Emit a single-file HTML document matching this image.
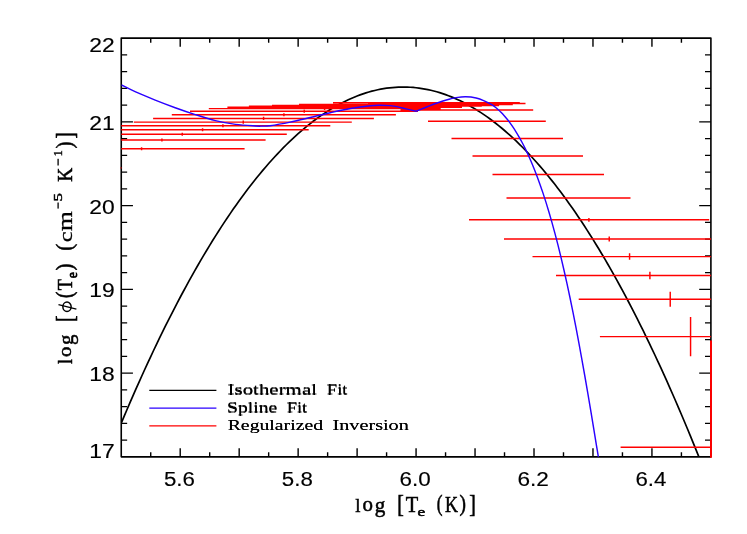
<!DOCTYPE html>
<html><head><meta charset="utf-8"><title>DEM plot</title>
<style>html,body{margin:0;padding:0;background:#fff;}body{width:747px;height:534px;overflow:hidden;}svg{display:block;will-change:transform;}text{font-family:"Liberation Serif",serif;fill:#000;}.tk{font-family:"Liberation Sans",sans-serif;font-size:20px;}</style></head><body>
<svg width="747" height="534" viewBox="0 0 747 534">
<rect x="0" y="0" width="747" height="534" fill="#fff"/>
<defs><clipPath id="cp"><rect x="121.25" y="38.10" width="589.65" height="418.75"/></clipPath></defs>
<path d="M121.25 38.10H710.90V456.85H121.25Z" fill="none" stroke="#000" stroke-width="1.6" stroke-linejoin="round"/>
<path d="M150.73 456.85v-4.60M150.73 38.10v4.60M180.21 456.85v-8.60M180.21 38.10v8.60M209.70 456.85v-4.60M209.70 38.10v4.60M239.18 456.85v-8.60M239.18 38.10v8.60M268.66 456.85v-4.60M268.66 38.10v4.60M298.14 456.85v-8.60M298.14 38.10v8.60M327.63 456.85v-4.60M327.63 38.10v4.60M357.11 456.85v-8.60M357.11 38.10v8.60M386.59 456.85v-4.60M386.59 38.10v4.60M416.07 456.85v-8.60M416.07 38.10v8.60M445.56 456.85v-4.60M445.56 38.10v4.60M475.04 456.85v-8.60M475.04 38.10v8.60M504.52 456.85v-4.60M504.52 38.10v4.60M534.01 456.85v-8.60M534.01 38.10v8.60M563.49 456.85v-4.60M563.49 38.10v4.60M592.97 456.85v-8.60M592.97 38.10v8.60M622.45 456.85v-4.60M622.45 38.10v4.60M651.94 456.85v-8.60M651.94 38.10v8.60M681.42 456.85v-4.60M681.42 38.10v4.60M121.25 440.10h5.90M710.90 440.10h-5.90M121.25 423.35h5.90M710.90 423.35h-5.90M121.25 406.60h5.90M710.90 406.60h-5.90M121.25 389.85h5.90M710.90 389.85h-5.90M121.25 373.10h11.70M710.90 373.10h-11.70M121.25 356.35h5.90M710.90 356.35h-5.90M121.25 339.60h5.90M710.90 339.60h-5.90M121.25 322.85h5.90M710.90 322.85h-5.90M121.25 306.10h5.90M710.90 306.10h-5.90M121.25 289.35h11.70M710.90 289.35h-11.70M121.25 272.60h5.90M710.90 272.60h-5.90M121.25 255.85h5.90M710.90 255.85h-5.90M121.25 239.10h5.90M710.90 239.10h-5.90M121.25 222.35h5.90M710.90 222.35h-5.90M121.25 205.60h11.70M710.90 205.60h-11.70M121.25 188.85h5.90M710.90 188.85h-5.90M121.25 172.10h5.90M710.90 172.10h-5.90M121.25 155.35h5.90M710.90 155.35h-5.90M121.25 138.60h5.90M710.90 138.60h-5.90M121.25 121.85h11.70M710.90 121.85h-11.70M121.25 105.10h5.90M710.90 105.10h-5.90M121.25 88.35h5.90M710.90 88.35h-5.90M121.25 71.60h5.90M710.90 71.60h-5.90M121.25 54.85h5.90M710.90 54.85h-5.90" fill="none" stroke="#000" stroke-width="1.4" stroke-linecap="butt"/>
<g clip-path="url(#cp)">
<polyline points="121.25,423.15 124.20,416.15 127.15,409.23 130.09,402.39 133.04,395.61 135.99,388.92 138.94,382.29 141.89,375.74 144.84,369.26 147.78,362.85 150.73,356.52 153.68,350.26 156.63,344.08 159.58,337.97 162.53,331.93 165.47,325.97 168.42,320.08 171.37,314.26 174.32,308.52 177.27,302.85 180.21,297.25 183.16,291.73 186.11,286.28 189.06,280.90 192.01,275.60 194.96,270.37 197.90,265.22 200.85,260.14 203.80,255.13 206.75,250.19 209.70,245.33 212.65,240.54 215.59,235.83 218.54,231.19 221.49,226.62 224.44,222.13 227.39,217.71 230.34,213.36 233.28,209.09 236.23,204.89 239.18,200.76 242.13,196.71 245.08,192.73 248.02,188.83 250.97,185.00 253.92,181.24 256.87,177.55 259.82,173.94 262.77,170.40 265.71,166.94 268.66,163.55 271.61,160.23 274.56,156.99 277.51,153.82 280.46,150.72 283.40,147.70 286.35,144.75 289.30,141.87 292.25,139.07 295.20,136.34 298.14,133.68 301.09,131.10 304.04,128.59 306.99,126.16 309.94,123.80 312.89,121.51 315.83,119.29 318.78,117.15 321.73,115.09 324.68,113.09 327.63,111.17 330.58,109.33 333.52,107.55 336.47,105.85 339.42,104.23 342.37,102.67 345.32,101.19 348.27,99.79 351.21,98.46 354.16,97.20 357.11,96.01 360.06,94.90 363.01,93.86 365.95,92.90 368.90,92.01 371.85,91.19 374.80,90.45 377.75,89.77 380.70,89.18 383.64,88.65 386.59,88.20 389.54,87.83 392.49,87.53 395.44,87.30 398.39,87.14 401.33,87.06 404.28,87.05 407.23,87.11 410.18,87.25 413.13,87.46 416.07,87.75 419.02,88.11 421.97,88.54 424.92,89.05 427.87,89.62 430.82,90.28 433.76,91.00 436.71,91.80 439.66,92.68 442.61,93.62 445.56,94.64 448.51,95.74 451.45,96.91 454.40,98.15 457.35,99.46 460.30,100.85 463.25,102.31 466.20,103.85 469.14,105.46 472.09,107.14 475.04,108.89 477.99,110.72 480.94,112.62 483.88,114.60 486.83,116.65 489.78,118.77 492.73,120.97 495.68,123.24 498.63,125.59 501.57,128.00 504.52,130.49 507.47,133.06 510.42,135.70 513.37,138.41 516.32,141.19 519.26,144.05 522.21,146.98 525.16,149.99 528.11,153.07 531.06,156.22 534.01,159.45 536.95,162.74 539.90,166.12 542.85,169.56 545.80,173.08 548.75,176.68 551.69,180.35 554.64,184.09 557.59,187.90 560.54,191.79 563.49,195.75 566.44,199.78 569.38,203.89 572.33,208.07 575.28,212.33 578.23,216.66 581.18,221.06 584.13,225.54 587.07,230.09 590.02,234.71 592.97,239.41 595.92,244.18 598.87,249.02 601.81,253.94 604.76,258.93 607.71,263.99 610.66,269.13 613.61,274.34 616.56,279.62 619.50,284.98 622.45,290.41 625.40,295.92 628.35,301.50 631.30,307.15 634.25,312.88 637.19,318.67 640.14,324.55 643.09,330.49 646.04,336.51 648.99,342.61 651.94,348.77 654.88,355.01 657.83,361.33 660.78,367.72 663.73,374.18 666.68,380.71 669.62,387.32 672.57,394.00 675.52,400.76 678.47,407.58 681.42,414.49 684.37,421.46 687.31,428.51 690.26,435.63 693.21,442.83 696.16,450.10 699.11,457.44 702.06,464.86 705.00,472.35 707.95,479.91 710.90,487.55" fill="none" stroke="#000" stroke-width="1.70" stroke-linejoin="round"/>
<path d="M116.25 148.70H244.60M141.58 147.15V150.25M116.25 140.00H265.60M161.92 138.45V141.55M116.25 134.20H286.80M182.25 132.65V135.75M116.25 129.70H308.70M202.58 128.15V131.25M116.25 125.80H330.30M222.91 124.25V127.35M133.80 122.10H351.80M243.25 120.55V123.65M153.10 118.40H373.90M263.58 116.85V119.95M171.80 114.70H395.90M283.91 113.15V116.25M190.00 111.20H418.00M304.24 109.75V112.65M208.80 108.60H440.70M324.58 107.25V109.95M227.40 107.20H462.00M248.90 106.10H481.80M272.00 105.50H499.10M299.00 104.50H512.80M333.00 102.80H519.80M368.00 103.55H525.50M400.50 109.90H533.20M428.00 121.20H545.80M451.50 138.50H563.00M472.50 156.00H583.00M492.50 174.50H604.00M506.50 198.00H630.50M469.00 219.80H709.20M588.90 217.95V221.65M504.00 239.00H715.90M609.24 236.55V241.45M532.50 256.60H715.90M629.57 253.35V259.85M556.00 275.50H715.90M649.90 271.65V279.35M578.70 299.30H715.90M670.23 291.85V306.75M599.90 336.60H715.90M690.57 317.00V356.20M620.60 447.20H715.90" fill="none" stroke="#f00" stroke-width="1.45"/>
</g>
<path d="M711.00 340.5V457.75" stroke="#f00" stroke-width="1.95" fill="none"/>
<rect x="120.55" y="167.3" width="1.0" height="1.2" fill="#f00"/>
<g clip-path="url(#cp)">
<path d="M121.50 85.00C123.77 86.12 129.48 89.18 135.10 91.70C140.72 94.22 148.52 97.43 155.20 100.10C161.88 102.77 168.52 105.28 175.20 107.70C181.88 110.12 188.60 112.45 195.30 114.60C202.00 116.75 208.70 118.97 215.40 120.60C222.10 122.23 228.80 123.50 235.50 124.40C242.20 125.30 251.18 125.72 255.60 126.00C260.02 126.28 259.58 126.15 262.00 126.10C264.42 126.05 265.40 126.37 270.10 125.70C274.80 125.03 283.52 123.47 290.20 122.10C296.88 120.73 303.52 119.07 310.20 117.50C316.88 115.93 323.60 114.20 330.30 112.70C337.00 111.20 343.70 109.67 350.40 108.50C357.10 107.33 365.48 106.23 370.50 105.70C375.52 105.17 377.25 105.31 380.50 105.30C383.75 105.29 387.08 105.39 390.00 105.65C392.92 105.91 395.32 106.31 398.00 106.85C400.68 107.39 403.08 108.18 406.10 108.90C409.12 109.62 414.43 110.82 416.10 111.20L416.10 111.20C417.77 110.54 423.08 108.45 426.10 107.25C429.12 106.05 431.52 104.99 434.20 104.00C436.88 103.01 439.57 102.13 442.20 101.30C444.83 100.47 447.68 99.62 450.00 99.00C452.32 98.38 453.48 97.97 456.10 97.60C458.72 97.23 462.37 96.73 465.70 96.80C469.03 96.87 473.02 97.33 476.10 98.00C479.18 98.67 481.52 99.65 484.20 100.80C486.88 101.95 490.40 103.87 492.20 104.90C494.00 105.93 494.03 106.24 495.00 107.01C495.97 107.77 497.00 108.60 498.00 109.48C499.00 110.36 500.00 111.30 501.00 112.30C502.00 113.29 503.00 114.34 504.00 115.46C505.00 116.57 506.00 117.74 507.00 118.98C508.00 120.21 509.00 121.51 510.00 122.87C511.00 124.22 512.00 125.64 513.00 127.13C514.00 128.61 515.00 130.16 516.00 131.78C517.00 133.40 518.00 135.08 519.00 136.83C520.00 138.58 521.00 140.39 522.00 142.28C523.00 144.17 524.00 146.13 525.00 148.16C526.00 150.19 527.00 152.29 528.00 154.47C529.00 156.65 530.00 158.90 531.00 161.23C532.00 163.57 533.00 165.97 534.00 168.46C535.00 170.95 536.00 173.52 537.00 176.17C538.00 178.83 539.00 181.56 540.00 184.39C541.00 187.21 542.00 190.12 543.00 193.12C544.00 196.12 545.00 199.21 546.00 202.39C547.00 205.57 548.00 208.84 549.00 212.21C550.00 215.58 551.00 219.04 552.00 222.61C553.00 226.17 554.00 229.83 555.00 233.59C556.00 237.36 557.00 241.22 558.00 245.18C559.00 249.15 560.00 253.21 561.00 257.38C562.00 261.55 563.00 265.83 564.00 270.21C565.00 274.59 566.00 279.07 567.00 283.66C568.00 288.25 569.00 292.94 570.00 297.74C571.00 302.53 572.00 307.43 573.00 312.43C574.00 317.43 575.00 322.54 576.00 327.73C577.00 332.93 578.00 338.23 579.00 343.62C580.00 349.00 581.00 354.49 582.00 360.05C583.00 365.62 584.00 371.28 585.00 377.00C586.00 382.73 587.00 388.54 588.00 394.41C589.00 400.28 590.00 406.22 591.00 412.21C592.00 418.19 593.00 424.24 594.00 430.32C595.00 436.39 596.00 442.52 597.00 448.64C598.00 454.77 599.50 464.00 600.00 467.07" fill="none" stroke="#2a00ff" stroke-width="1.45" stroke-linejoin="miter"/>
</g>
<path d="M149.3 390.30H216.4" stroke="#000" stroke-width="1.35" fill="none"/>
<path d="M149.3 408.10H216.4" stroke="#2a00ff" stroke-width="1.35" fill="none"/>
<path d="M149.3 425.80H216.4" stroke="#f00" stroke-width="1.35" fill="none"/>
<text x="227.54" y="394.40" font-size="14.3" textLength="89.47" lengthAdjust="spacingAndGlyphs">Isothermal</text>
<text x="227.54" y="395.00" font-size="14.3" textLength="89.47" lengthAdjust="spacingAndGlyphs">Isothermal</text>
<text x="326.87" y="394.40" font-size="14.3" textLength="20.64" lengthAdjust="spacingAndGlyphs">Fit</text>
<text x="326.87" y="395.00" font-size="14.3" textLength="20.64" lengthAdjust="spacingAndGlyphs">Fit</text>
<text x="226.98" y="412.10" font-size="14.3" textLength="50.40" lengthAdjust="spacingAndGlyphs">Spline</text>
<text x="226.98" y="412.70" font-size="14.3" textLength="50.40" lengthAdjust="spacingAndGlyphs">Spline</text>
<text x="286.67" y="412.10" font-size="14.3" textLength="20.64" lengthAdjust="spacingAndGlyphs">Fit</text>
<text x="286.67" y="412.70" font-size="14.3" textLength="20.64" lengthAdjust="spacingAndGlyphs">Fit</text>
<text x="227.73" y="429.70" font-size="14.3" textLength="95.31" lengthAdjust="spacingAndGlyphs">Regularized</text>
<text x="227.73" y="430.30" font-size="14.3" textLength="95.31" lengthAdjust="spacingAndGlyphs">Regularized</text>
<text x="332.57" y="429.70" font-size="14.3" textLength="76.23" lengthAdjust="spacingAndGlyphs">Inversion</text>
<text x="332.57" y="430.30" font-size="14.3" textLength="76.23" lengthAdjust="spacingAndGlyphs">Inversion</text>
<text class="tk" x="163.96" y="486.05" font-size="20" textLength="31.01" lengthAdjust="spacingAndGlyphs" stroke="#000" stroke-width="0.15">5.6</text>
<text class="tk" x="281.89" y="486.05" font-size="20" textLength="30.99" lengthAdjust="spacingAndGlyphs" stroke="#000" stroke-width="0.15">5.8</text>
<text class="tk" x="399.57" y="486.05" font-size="20" textLength="31.14" lengthAdjust="spacingAndGlyphs" stroke="#000" stroke-width="0.15">6.0</text>
<text class="tk" x="517.49" y="486.05" font-size="20" textLength="31.41" lengthAdjust="spacingAndGlyphs" stroke="#000" stroke-width="0.15">6.2</text>
<text class="tk" x="635.44" y="486.05" font-size="20" textLength="30.91" lengthAdjust="spacingAndGlyphs" stroke="#000" stroke-width="0.15">6.4</text>
<text class="tk" x="114.60" y="51.85" text-anchor="end" textLength="25.40" lengthAdjust="spacingAndGlyphs" stroke="#000" stroke-width="0.15">22</text>
<text class="tk" x="114.60" y="129.75" text-anchor="end" textLength="25.40" lengthAdjust="spacingAndGlyphs" stroke="#000" stroke-width="0.15">21</text>
<text class="tk" x="114.60" y="213.50" text-anchor="end" textLength="25.40" lengthAdjust="spacingAndGlyphs" stroke="#000" stroke-width="0.15">20</text>
<text class="tk" x="114.60" y="297.25" text-anchor="end" textLength="25.40" lengthAdjust="spacingAndGlyphs" stroke="#000" stroke-width="0.15">19</text>
<text class="tk" x="114.60" y="381.00" text-anchor="end" textLength="25.40" lengthAdjust="spacingAndGlyphs" stroke="#000" stroke-width="0.15">18</text>
<text class="tk" x="114.60" y="457.50" text-anchor="end" textLength="25.40" lengthAdjust="spacingAndGlyphs" stroke="#000" stroke-width="0.15">17</text>
<g transform="translate(0,511.6)">
<text transform="translate(355.18,-0.07) scale(0.944,0.992)" font-size="20.0" stroke="#000" stroke-width="0.5">l</text>
<text transform="translate(362.49,-0.20) scale(1.043,1.083)" font-size="20.0" stroke="#000" stroke-width="0.5">o</text>
<text transform="translate(374.78,0.15) scale(1.054,1.058)" font-size="20.0" stroke="#000" stroke-width="0.5">g</text>
<text transform="translate(397.31,0.80) scale(0.981,1.258)" font-size="20.0" stroke="#000" stroke-width="0.5">[</text>
<text transform="translate(405.81,-0.10) scale(1.020,1.115)" font-size="20.0" stroke="#000" stroke-width="0.5">T</text>
<text transform="translate(417.59,4.12) scale(0.861,0.610)" font-size="20.0" stroke="#000" stroke-width="0.8">e</text>
<text transform="translate(436.68,-0.87) scale(0.862,1.119)" font-size="20.0" stroke="#000" stroke-width="0.5">(</text>
<text transform="translate(444.93,-0.10) scale(0.901,1.115)" font-size="20.0" stroke="#000" stroke-width="0.5">K</text>
<text transform="translate(459.54,-0.87) scale(0.969,1.119)" font-size="20.0" stroke="#000" stroke-width="0.5">)</text>
<text transform="translate(469.16,0.80) scale(0.981,1.258)" font-size="20.0" stroke="#000" stroke-width="0.5">]</text>
</g>
<g transform="translate(71.5,364.1) rotate(-90)">
<text transform="translate(-0.01,0.03) scale(0.887,0.999)" font-size="20.0" stroke="#000" stroke-width="0.5">l</text>
<text transform="translate(6.98,-0.05) scale(1.054,0.974)" font-size="20.0" stroke="#000" stroke-width="0.5">o</text>
<text transform="translate(18.98,1.23) scale(1.043,1.085)" font-size="20.0" stroke="#000" stroke-width="0.5">g</text>
<text transform="translate(42.21,1.96) scale(0.981,1.305)" font-size="20.0" stroke="#000" stroke-width="0.5">[</text>
<ellipse cx="57.3" cy="-4.5" rx="4.7" ry="4.15" fill="none" stroke="#000" stroke-width="1.5"/><path d="M59.4 -13.0L55.0 4.9" stroke="#000" stroke-width="1.3" fill="none"/>
<text transform="translate(66.22,0.02) scale(0.951,1.168)" font-size="20.0" stroke="#000" stroke-width="0.5">(</text>
<text transform="translate(73.82,0.11) scale(0.912,1.078)" font-size="20.0" stroke="#000" stroke-width="0.5">T</text>
<text transform="translate(85.96,5.65) scale(0.677,0.705)" font-size="20.0" stroke="#000" stroke-width="1.1">e</text>
<text transform="translate(93.72,0.02) scale(1.022,1.168)" font-size="20.0" stroke="#000" stroke-width="0.5">)</text>
<text transform="translate(113.37,0.02) scale(1.040,1.168)" font-size="20.0" stroke="#000" stroke-width="0.5">(</text>
<text transform="translate(121.78,0.04) scale(1.213,0.994)" font-size="20.0" stroke="#000" stroke-width="0.3">c</text>
<text transform="translate(133.08,0.13) scale(1.273,1.004)" font-size="20.0" stroke="#000" stroke-width="0.3">m</text>
<rect x="155.50" y="-14.05" width="6.10" height="1.30" fill="#000"/>
<text transform="translate(162.54,-9.58) scale(0.841,0.662)" font-size="20.0" stroke="#000" stroke-width="0.7">5</text>
<text transform="translate(182.30,0.11) scale(0.972,1.064)" font-size="20.0" stroke="#000" stroke-width="0.5">K</text>
<rect x="198.60" y="-14.05" width="6.70" height="1.30" fill="#000"/>
<text transform="translate(207.49,-9.42) scale(0.636,0.664)" font-size="20.0" stroke="#000" stroke-width="0.6">1</text>
<text transform="translate(215.71,0.02) scale(1.040,1.168)" font-size="20.0" stroke="#000" stroke-width="0.5">)</text>
<text transform="translate(225.68,1.96) scale(0.921,1.305)" font-size="20.0" stroke="#000" stroke-width="0.5">]</text>
</g>
</svg></body></html>
